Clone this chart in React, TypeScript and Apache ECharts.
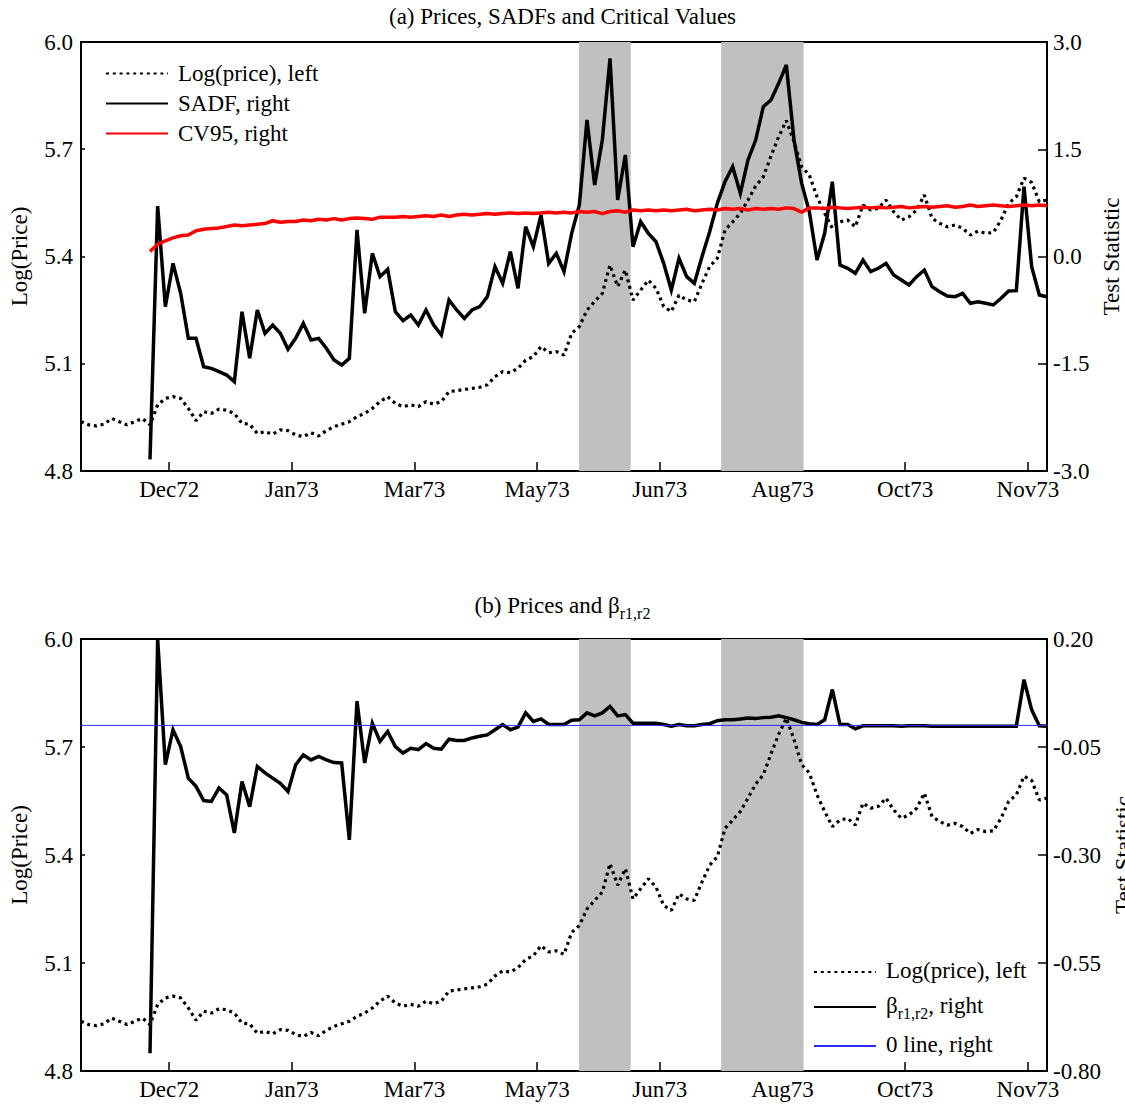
import React, { useEffect, useRef } from 'react';
import * as echarts from 'echarts';

// Observations are stored every STEP trading days; the x axis counts trading days.
const STEP = 2;
const X_MAX = 252;
const RECURSION_START = 9; // first stored observation with a recursive estimate

const TICK_DAYS = [23, 55, 87, 119, 151, 183, 215, 247];
const TICK_LABELS = ['Dec72', 'Jan73', 'Mar73', 'May73', 'Jun73', 'Aug73', 'Oct73', 'Nov73'];

// Periods flagged as bubbles (trading-day index, start / end)
const BUBBLE_STARTS = [129.9, 167.0];
const BUBBLE_ENDS = [143.4, 188.5];

const LOG_PRICE = [
  4.938, 4.929, 4.926, 4.931, 4.947, 4.938, 4.929, 4.938, 4.947, 4.929,
  4.985, 5.003, 5.008, 5.003, 4.975, 4.941, 4.966, 4.961, 4.973, 4.970,
  4.961, 4.933, 4.931, 4.905, 4.910, 4.903, 4.915, 4.913, 4.901, 4.896,
  4.907, 4.898, 4.913, 4.924, 4.931, 4.938, 4.952, 4.961, 4.975, 4.994,
  5.008, 4.989, 4.980, 4.985, 4.980, 4.994, 4.987, 4.994, 5.022, 5.025,
  5.028, 5.031, 5.034, 5.041, 5.064, 5.078, 5.075, 5.087, 5.110, 5.120,
  5.148, 5.131, 5.134, 5.124, 5.185, 5.204, 5.250, 5.274, 5.297, 5.376,
  5.316, 5.362, 5.278, 5.306, 5.334, 5.311, 5.260, 5.246, 5.292, 5.278,
  5.274, 5.325, 5.372, 5.395, 5.474, 5.497, 5.521, 5.558, 5.597, 5.623,
  5.681, 5.735, 5.780, 5.721, 5.651, 5.628, 5.567, 5.521, 5.479, 5.497,
  5.502, 5.483, 5.544, 5.530, 5.535, 5.558, 5.525, 5.502, 5.511, 5.530,
  5.572, 5.507, 5.493, 5.483, 5.488, 5.479, 5.460, 5.471, 5.465, 5.467,
  5.502, 5.549, 5.567, 5.619, 5.607, 5.553, 5.558,
];

const SADF = [
  -2.837, 0.706, -0.702, -0.096, -0.515, -1.145, -1.145, -1.541, -1.564, -1.611,
  -1.658, -1.751, -0.772, -1.424, -0.748, -1.075, -0.958, -1.075, -1.298, -1.145,
  -0.935, -1.168, -1.145, -1.284, -1.448, -1.518, -1.424, 0.371, -0.795, 0.044,
  -0.282, -0.180, -0.772, -0.897, -0.818, -0.958, -0.748, -0.958, -1.098, -0.608,
  -0.748, -0.865, -0.748, -0.702, -0.562, -0.142, -0.375, 0.068, -0.445, 0.417,
  0.137, 0.580, -0.096, 0.044, -0.212, 0.324, 0.720, 1.909, 1.000, 1.629,
  2.772, 0.790, 1.420, 0.137, 0.487, 0.324, 0.207, -0.096, -0.469, -0.025,
  -0.282, -0.375, -0.002, 0.347, 0.744, 1.047, 1.256, 0.883, 1.350, 1.629,
  2.096, 2.189, 2.422, 2.678, 1.629, 1.023, 0.627, -0.049, 0.324, 1.047,
  -0.119, -0.165, -0.235, -0.049, -0.212, -0.165, -0.096, -0.259, -0.329, -0.399,
  -0.282, -0.189, -0.422, -0.492, -0.552, -0.562, -0.515, -0.655, -0.632, -0.655,
  -0.678, -0.585, -0.483, -0.478, 0.977, -0.142, -0.539, -0.562,
];

const CV95 = [
  0.07, 0.17, 0.22, 0.26, 0.29, 0.30, 0.36, 0.38, 0.39, 0.40,
  0.42, 0.44, 0.43, 0.44, 0.45, 0.46, 0.50, 0.48, 0.49, 0.49,
  0.51, 0.50, 0.52, 0.51, 0.53, 0.51, 0.53, 0.54, 0.53, 0.52,
  0.55, 0.55, 0.55, 0.56, 0.55, 0.56, 0.57, 0.56, 0.58, 0.56,
  0.58, 0.59, 0.58, 0.59, 0.60, 0.59, 0.60, 0.61, 0.60, 0.61,
  0.60, 0.61, 0.62, 0.61, 0.62, 0.61, 0.63, 0.62, 0.63, 0.60,
  0.63, 0.64, 0.62, 0.65, 0.64, 0.65, 0.64, 0.65, 0.64, 0.65,
  0.66, 0.64, 0.65, 0.66, 0.65, 0.67, 0.66, 0.67, 0.65, 0.67,
  0.66, 0.67, 0.66, 0.68, 0.67, 0.62, 0.68, 0.68, 0.67, 0.69,
  0.68, 0.67, 0.68, 0.69, 0.68, 0.69, 0.68, 0.69, 0.70, 0.68,
  0.69, 0.70, 0.69, 0.70, 0.71, 0.69, 0.70, 0.72, 0.70, 0.71,
  0.72, 0.71, 0.70, 0.71, 0.72, 0.71, 0.72, 0.71,
];

const BETA = [
  -0.759, 0.200, -0.091, -0.010, -0.049, -0.122, -0.141, -0.174, -0.176, -0.145,
  -0.161, -0.249, -0.130, -0.188, -0.095, -0.110, -0.122, -0.134, -0.153, -0.091,
  -0.068, -0.080, -0.072, -0.080, -0.086, -0.087, -0.265, 0.056, -0.087, 0.005,
  -0.037, -0.014, -0.049, -0.064, -0.053, -0.056, -0.042, -0.053, -0.055, -0.032,
  -0.035, -0.035, -0.029, -0.025, -0.022, -0.010, 0.002, -0.010, -0.004, 0.029,
  0.009, 0.015, 0.002, 0.002, 0.002, 0.012, 0.013, 0.029, 0.022, 0.029,
  0.044, 0.022, 0.025, 0.005, 0.005, 0.005, 0.005, 0.002, -0.002, 0.002,
  -0.001, -0.001, 0.002, 0.004, 0.011, 0.013, 0.013, 0.015, 0.017, 0.016,
  0.018, 0.019, 0.022, 0.018, 0.013, 0.007, 0.004, 0.002, 0.013, 0.083,
  0.002, 0.002, -0.008, -0.001, -0.001, -0.001, -0.001, -0.001, -0.002, -0.001,
  -0.001, -0.001, -0.002, -0.002, -0.002, -0.002, -0.002, -0.002, -0.002, -0.002,
  -0.002, -0.002, -0.002, -0.002, 0.106, 0.036, -0.001, -0.002,
];

const ZERO_LEVEL = 0;

const PRICE_NAME = 'Log(price), left';
const SADF_NAME = 'SADF, right';
const CV_NAME = 'CV95, right';
const BETA_NAME = 'beta, right';
const ZERO_NAME = '0 line, right';

const FONT = 'Liberation Serif';
const FS = 23;

const toPairs = (values: number[], start: number) =>
  values.map((v, i) => [(start + i) * STEP, v]);

const richText = {
  t: { fontFamily: FONT, fontSize: FS, color: '#000', verticalAlign: 'top', lineHeight: 26 },
  s: { fontFamily: FONT, fontSize: 16, color: '#000', verticalAlign: 'top', lineHeight: 18, padding: [11, 0, 0, 0] },
};

function xAxisFor(gridIndex: number) {
  return {
    type: 'value',
    gridIndex,
    min: 0,
    max: X_MAX,
    axisLine: { show: true, onZero: false, lineStyle: { color: '#000', width: 2 } },
    axisTick: { show: true, inside: true, length: 9, customValues: TICK_DAYS, lineStyle: { color: '#000', width: 1.5 } },
    axisLabel: {
      customValues: TICK_DAYS,
      formatter: (v: number) => TICK_LABELS[TICK_DAYS.indexOf(v)] ?? '',
      fontFamily: FONT,
      fontSize: FS,
      color: '#000',
      margin: 7,
    },
    splitLine: { show: false },
  };
}

function yAxisFor(
  gridIndex: number,
  position: 'left' | 'right',
  min: number,
  max: number,
  interval: number,
  digits: number,
  name: string,
  nameGap: number,
) {
  return {
    type: 'value',
    gridIndex,
    position,
    min,
    max,
    interval,
    name,
    nameLocation: 'middle',
    nameGap,
    nameRotate: 90,
    nameTextStyle: { fontFamily: FONT, fontSize: FS, color: '#000' },
    axisLine: { show: true, onZero: false, lineStyle: { color: '#000', width: 2 } },
    axisTick: { show: true, inside: true, length: position === 'left' ? 4 : 9, lineStyle: { color: '#000', width: 1.5 } },
    axisLabel: {
      formatter: (v: number) => (Math.abs(v) < 1e-9 ? 0 : v).toFixed(digits),
      fontFamily: FONT,
      fontSize: FS,
      color: '#000',
      margin: position === 'left' ? 8 : 6,
    },
    splitLine: { show: false },
  };
}

function bandSeries(gridIndex: number, yAxisIndex: number) {
  return {
    type: 'line',
    xAxisIndex: gridIndex,
    yAxisIndex,
    data: [],
    silent: true,
    z: 1,
    markArea: {
      silent: true,
      itemStyle: { color: '#c0c0c0' },
      data: BUBBLE_STARTS.map((s, i) => [{ xAxis: s }, { xAxis: BUBBLE_ENDS[i] }]),
    },
  };
}

const priceLine = { color: '#000', width: 3.2, type: [3, 3.8] };
const legendBase = {
  orient: 'vertical',
  padding: 0,
  itemWidth: 62,
  itemHeight: 14,
  itemStyle: { opacity: 0 },
};
const gridBase = {
  left: 81,
  width: 966,
  show: true,
  borderColor: '#000',
  borderWidth: 2,
  containLabel: false,
  outerBoundsMode: 'none',
};

export default function App() {
  const ref = useRef<HTMLDivElement>(null);

  useEffect(() => {
    if (!ref.current) return;
    const chart = echarts.init(ref.current, undefined, { renderer: 'svg' });
    const pricePairs = toPairs(LOG_PRICE, 0);

    chart.setOption({
      animation: false,
      textStyle: { fontFamily: FONT, color: '#000' },
      title: [
        {
          text: '(a) Prices, SADFs and Critical Values',
          left: 'center',
          top: 0,
          textStyle: { fontFamily: FONT, fontSize: FS, fontWeight: 'normal', color: '#000' },
        },
        {
          text: '{t|(b) Prices and β}{s|r1,r2}',
          left: 'center',
          top: 589,
          textStyle: { fontFamily: FONT, fontSize: FS, fontWeight: 'normal', color: '#000', rich: richText },
        },
      ],
      grid: [
        { ...gridBase, top: 42, height: 429 },
        { ...gridBase, top: 639, height: 432 },
      ],
      legend: [
        {
          ...legendBase,
          left: 105,
          top: 62,
          itemGap: 7,
          data: [PRICE_NAME, SADF_NAME, CV_NAME],
          textStyle: { fontFamily: FONT, fontSize: FS, color: '#000', padding: [0, 0, 0, 5] },
        },
        {
          ...legendBase,
          left: 813,
          top: 959,
          itemGap: 12,
          data: [PRICE_NAME, BETA_NAME, ZERO_NAME],
          formatter: (name: string) =>
            name === BETA_NAME ? '{t|β}{s|r1,r2}{t|, right}' : `{t|${name}}`,
          textStyle: { fontFamily: FONT, fontSize: FS, color: '#000', padding: [0, 0, 0, 5], rich: richText },
        },
      ],
      xAxis: [xAxisFor(0), xAxisFor(1)],
      yAxis: [
        yAxisFor(0, 'left', 4.8, 6.0, 0.3, 1, 'Log(Price)', 50),
        yAxisFor(0, 'right', -3, 3, 1.5, 1, 'Test Statistic', 51),
        yAxisFor(1, 'left', 4.8, 6.0, 0.3, 1, 'Log(Price)', 50),
        yAxisFor(1, 'right', -0.8, 0.2, 0.25, 2, 'Test Statistic', 63),
      ],
      series: [
        bandSeries(0, 0),
        {
          name: PRICE_NAME,
          type: 'line',
          xAxisIndex: 0,
          yAxisIndex: 0,
          data: pricePairs,
          symbol: 'none',
          itemStyle: { color: '#000' },
          lineStyle: priceLine,
          z: 2,
        },
        {
          name: SADF_NAME,
          type: 'line',
          xAxisIndex: 0,
          yAxisIndex: 1,
          data: toPairs(SADF, RECURSION_START),
          symbol: 'none',
          itemStyle: { color: '#000' },
          lineStyle: { color: '#000', width: 3.5, join: 'miter', miterLimit: 4 },
          z: 3,
        },
        {
          name: CV_NAME,
          type: 'line',
          xAxisIndex: 0,
          yAxisIndex: 1,
          data: toPairs(CV95, RECURSION_START),
          symbol: 'none',
          itemStyle: { color: '#ff0000' },
          lineStyle: { color: '#ff0000', width: 3.5 },
          z: 4,
        },
        bandSeries(1, 2),
        {
          name: PRICE_NAME,
          type: 'line',
          xAxisIndex: 1,
          yAxisIndex: 2,
          data: pricePairs,
          symbol: 'none',
          itemStyle: { color: '#000' },
          lineStyle: priceLine,
          z: 2,
        },
        {
          name: BETA_NAME,
          type: 'line',
          xAxisIndex: 1,
          yAxisIndex: 3,
          data: toPairs(BETA, RECURSION_START),
          symbol: 'none',
          itemStyle: { color: '#000' },
          lineStyle: { color: '#000', width: 3.5, join: 'miter', miterLimit: 4 },
          z: 3,
        },
        {
          name: ZERO_NAME,
          type: 'line',
          xAxisIndex: 1,
          yAxisIndex: 3,
          data: [
            [0, ZERO_LEVEL],
            [X_MAX, ZERO_LEVEL],
          ],
          symbol: 'none',
          itemStyle: { color: '#2a2aff' },
          lineStyle: { color: '#2a2aff', width: 1 },
          z: 4,
        },
      ],
    });

    return () => chart.dispose();
  }, []);

  return (
    <div
      ref={ref}
      style={{ position: 'absolute', left: 0, top: 0, width: 1125, height: 1106, background: '#fff' }}
    />
  );
}
